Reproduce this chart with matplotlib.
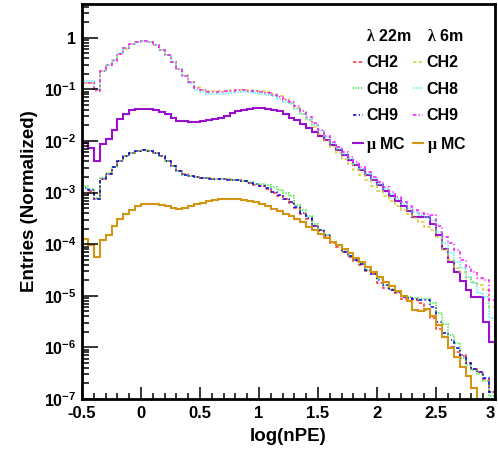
import matplotlib
matplotlib.use("Agg")
import matplotlib.pyplot as plt
from matplotlib.lines import Line2D
from matplotlib.ticker import FixedLocator, LogLocator, NullFormatter, MultipleLocator
import numpy as np

plt.rcParams["font.family"] = ["Liberation Sans", "DejaVu Sans"]
plt.rcParams["font.weight"] = "bold"
plt.rcParams["mathtext.fontset"] = "custom"
plt.rcParams["mathtext.rm"] = "Liberation Serif"
plt.rcParams["mathtext.it"] = "Liberation Serif:italic"
plt.rcParams["mathtext.bf"] = "Liberation Sans:bold"

# Binning: 70 bins of 0.05 in log(nPE)
bin_edges = np.linspace(-0.5, 3.0, 71)

# lambda = 22m
ch2_22m = [9.1e-4, 1.05e-3, 7.4e-4, 1.82e-3, 2.30e-3, 3.10e-3, 4.05e-3, 5.0e-3, 5.9e-3, 6.45e-3,
           6.6e-3, 6.45e-3, 5.9e-3, 5.0e-3, 4.05e-3, 3.2e-3, 2.6e-3, 2.25e-3, 2.08e-3, 2.0e-3,
           1.94e-3, 1.89e-3, 1.86e-3, 1.83e-3, 1.80e-3, 1.77e-3, 1.74e-3, 1.66e-3, 1.55e-3, 1.43e-3,
           1.32e-3, 1.18e-3, 1.0e-3, 8.6e-4, 7.4e-4, 6.4e-4, 5.0e-4, 3.9e-4, 3.1e-4, 2.25e-4,
           1.8e-4, 1.45e-4, 1.07e-4, 8.8e-5, 7.0e-5, 5.6e-5, 4.8e-5, 3.9e-5, 3.0e-5, 2.6e-5,
           1.75e-5, 1.40e-5, 1.28e-5, 1.12e-5, 8.6e-6, 8.6e-6, 8.2e-6, 7.2e-6, 5.2e-6, 3.7e-6,
           2.3e-6, 1.57e-6, 1.0e-6, 8.0e-7, 7.0e-7, 4.9e-7, 3.9e-7, 3.3e-7, 2.4e-7, 1.35e-7]
ch8_22m = [1.32e-3, 1.15e-3, 7.9e-4, 1.9e-3, 2.36e-3, 3.15e-3, 4.1e-3, 5.1e-3, 5.8e-3, 6.35e-3,
           6.6e-3, 6.5e-3, 5.8e-3, 5.1e-3, 4.1e-3, 3.25e-3, 2.6e-3, 2.22e-3, 2.05e-3, 1.97e-3,
           1.92e-3, 1.88e-3, 1.85e-3, 1.82e-3, 1.80e-3, 1.78e-3, 1.76e-3, 1.70e-3, 1.60e-3, 1.49e-3,
           1.45e-3, 1.38e-3, 1.28e-3, 1.11e-3, 9.6e-4, 8.5e-4, 5.7e-4, 4.5e-4, 3.5e-4, 2.5e-4,
           1.9e-4, 1.52e-4, 1.12e-4, 9.6e-5, 7.3e-5, 6.0e-5, 5.0e-5, 4.2e-5, 3.2e-5, 2.8e-5,
           2.1e-5, 1.65e-5, 1.35e-5, 1.2e-5, 9.8e-6, 9.3e-6, 8.9e-6, 8.7e-6, 8.7e-6, 7.2e-6,
           4.6e-6, 2.9e-6, 1.71e-6, 1.20e-6, 6.1e-7, 4.5e-7, 3.6e-7, 3.1e-7, 2.2e-7, 1.13e-7]
ch9_22m = [1.20e-3, 1.11e-3, 7.65e-4, 1.87e-3, 2.34e-3, 3.13e-3, 4.09e-3, 5.05e-3, 5.85e-3, 6.40e-3,
           6.6e-3, 6.5e-3, 5.85e-3, 5.05e-3, 4.09e-3, 3.23e-3, 2.59e-3, 2.23e-3, 2.07e-3, 1.98e-3,
           1.92e-3, 1.87e-3, 1.84e-3, 1.81e-3, 1.79e-3, 1.75e-3, 1.73e-3, 1.66e-3, 1.56e-3, 1.45e-3,
           1.34e-3, 1.20e-3, 1.03e-3, 8.9e-4, 7.65e-4, 6.6e-4, 5.2e-4, 4.0e-4, 3.2e-4, 2.3e-4,
           1.86e-4, 1.49e-4, 1.10e-4, 9.5e-5, 7.1e-5, 5.8e-5, 4.9e-5, 4.1e-5, 3.1e-5, 2.7e-5,
           2.0e-5, 1.6e-5, 1.32e-5, 1.19e-5, 9.5e-6, 9.1e-6, 8.7e-6, 8.4e-6, 8.2e-6, 6.1e-6,
           3.1e-6, 1.88e-6, 1.37e-6, 9.6e-7, 6.7e-7, 4.9e-7, 3.9e-7, 3.3e-7, 2.5e-7, 1.35e-7]
mc_22m = [9.1e-3, 7.3e-3, 4.0e-3, 8.6e-3, 1.11e-2, 1.66e-2, 2.64e-2, 3.40e-2, 3.94e-2, 4.11e-2,
          4.25e-2, 4.17e-2, 3.94e-2, 3.60e-2, 3.29e-2, 2.84e-2, 2.48e-2, 2.44e-2, 2.38e-2, 2.38e-2,
          2.44e-2, 2.52e-2, 2.67e-2, 2.84e-2, 3.11e-2, 3.44e-2, 3.77e-2, 4.06e-2, 4.25e-2, 4.36e-2,
          4.36e-2, 4.25e-2, 3.94e-2, 3.72e-2, 3.29e-2, 2.79e-2, 2.52e-2, 2.11e-2, 1.76e-2, 1.47e-2,
          1.23e-2, 1.03e-2, 8.3e-3, 6.6e-3, 5.3e-3, 4.2e-3, 3.4e-3, 2.7e-3, 2.2e-3, 1.73e-3,
          1.38e-3, 1.06e-3, 8.5e-4, 6.8e-4, 5.4e-4, 4.3e-4, 3.3e-4, 3.3e-4, 3.3e-4, 2.5e-4,
          1.49e-4, 7.9e-5, 4.5e-5, 2.9e-5, 1.91e-5, 1.32e-5, 9.5e-6, 9.5e-6, 3.1e-6, 1.27e-6]

# lambda = 6m
ch2_6m = [0.133, 0.133, 0.096, 0.227, 0.293, 0.366, 0.494, 0.618, 0.748, 0.818,
          0.855, 0.829, 0.716, 0.591, 0.458, 0.340, 0.253, 0.188, 0.139, 0.111,
          0.099, 0.093, 0.0919, 0.0919, 0.0948, 0.096, 0.099, 0.099, 0.0973, 0.0948,
          0.0919, 0.0879, 0.0815, 0.0735, 0.0643, 0.0545, 0.0430, 0.0329, 0.0252, 0.0184,
          0.0135, 9.9e-3, 7.6e-3, 5.8e-3, 4.4e-3, 3.5e-3, 2.7e-3, 2.2e-3, 1.73e-3, 1.32e-3,
          1.06e-3, 8.5e-4, 6.8e-4, 5.4e-4, 4.5e-4, 3.8e-4, 3.2e-4, 2.65e-4, 2.2e-4, 1.86e-4,
          1.36e-4, 7.6e-5, 4.9e-5, 3.4e-5, 2.85e-5, 2.2e-5, 1.83e-5, 1.6e-5, 1.28e-5, 6.0e-6]
ch8_6m = [0.147, 0.147, 0.10, 0.23, 0.295, 0.37, 0.50, 0.62, 0.75, 0.82,
          0.85, 0.83, 0.72, 0.59, 0.455, 0.335, 0.25, 0.185, 0.135, 0.099,
          0.0885, 0.083, 0.082, 0.082, 0.085, 0.086, 0.0885, 0.0885, 0.087, 0.085,
          0.082, 0.079, 0.073, 0.066, 0.0575, 0.0514, 0.0411, 0.0329, 0.0264, 0.0201,
          0.0154, 0.0118, 9.0e-3, 6.9e-3, 5.5e-3, 4.4e-3, 3.5e-3, 2.8e-3, 2.26e-3, 1.81e-3,
          1.45e-3, 1.16e-3, 9.3e-4, 7.4e-4, 5.9e-4, 5.0e-4, 4.15e-4, 3.6e-4, 3.3e-4, 2.9e-4,
          1.70e-4, 1.04e-4, 6.6e-5, 4.5e-5, 3.4e-5, 2.3e-5, 1.75e-5, 1.12e-5, 9.3e-6, 3.7e-6]
ch9_6m = [0.13, 0.13, 0.094, 0.222, 0.29, 0.36, 0.49, 0.62, 0.75, 0.82,
          0.86, 0.83, 0.72, 0.59, 0.46, 0.34, 0.25, 0.185, 0.137, 0.106,
          0.095, 0.089, 0.088, 0.088, 0.091, 0.092, 0.095, 0.095, 0.093, 0.091,
          0.088, 0.084, 0.078, 0.072, 0.063, 0.056, 0.047, 0.0377, 0.0288, 0.0220,
          0.0161, 0.0123, 9.4e-3, 7.6e-3, 6.0e-3, 4.8e-3, 3.9e-3, 3.1e-3, 2.5e-3, 1.98e-3,
          1.58e-3, 1.27e-3, 1.01e-3, 8.1e-4, 6.5e-4, 5.4e-4, 4.5e-4, 4.0e-4, 3.8e-4, 3.6e-4,
          2.3e-4, 1.36e-4, 1.04e-4, 7.6e-5, 4.9e-5, 3.6e-5, 2.85e-5, 2.2e-5, 2.0e-5, 8.2e-6]
mc_6m = [1.28e-4, 9.8e-5, 5.6e-5, 1.23e-4, 1.53e-4, 2.25e-4, 3.04e-4, 3.8e-4, 4.5e-4, 5.5e-4,
         6.1e-4, 6.1e-4, 5.9e-4, 5.7e-4, 5.4e-4, 5.1e-4, 4.9e-4, 5.1e-4, 5.4e-4, 5.9e-4,
         6.4e-4, 6.9e-4, 7.3e-4, 7.5e-4, 7.65e-4, 7.65e-4, 7.5e-4, 7.3e-4, 6.9e-4, 6.5e-4,
         6.1e-4, 5.5e-4, 4.9e-4, 4.3e-4, 3.8e-4, 3.5e-4, 3.1e-4, 2.7e-4, 2.2e-4, 1.86e-4,
         1.60e-4, 1.34e-4, 1.10e-4, 9.5e-5, 7.9e-5, 6.6e-5, 5.4e-5, 4.5e-5, 3.6e-5, 2.9e-5,
         2.3e-5, 1.85e-5, 1.53e-5, 1.24e-5, 9.9e-6, 7.8e-6, 5.2e-6, 5.0e-6, 5.5e-6, 4.0e-6,
         2.7e-6, 1.57e-6, 9.6e-7, 6.4e-7, 4.1e-7, 2.75e-7, 1.6e-7, 0.0, 0.0, 0.0]

x_ticks = [-0.5, 0.0, 0.5, 1.0, 1.5, 2.0, 2.5, 3.0]
x_labels = ["-0.5", "0", "0.5", "1", "1.5", "2", "2.5", "3"]
y_decades = [1e-7, 1e-6, 1e-5, 1e-4, 1e-3, 1e-2, 1e-1, 1.0]
y_labels = [r"$\mathbf{10^{-7}}$", r"$\mathbf{10^{-6}}$", r"$\mathbf{10^{-5}}$", r"$\mathbf{10^{-4}}$",
            r"$\mathbf{10^{-3}}$", r"$\mathbf{10^{-2}}$", r"$\mathbf{10^{-1}}$", "1"]

ymin, ymax = 1e-7, 4.5

dash = (0, (2.2, 1.6))
dot = (0, (0.8, 0.9))
dashdot = (0, (2.2, 1.6, 0.8, 1.6))

fig = plt.figure(figsize=(4.98, 4.5), dpi=100)
ax = fig.add_axes([0.1647, 0.1133, 0.8293, 0.8778])

series = [
    (ch2_22m, "#ff2a2a", dash, 1.1),
    (ch8_22m, "#22e622", dot, 1.1),
    (ch9_22m, "#0000ee", dashdot, 1.1),
    (mc_22m, "#9a10cc", "-", 1.5),
    (ch2_6m, "#d6cc30", dash, 1.1),
    (ch8_6m, "#33eeee", dot, 1.1),
    (ch9_6m, "#ff10ff", dashdot, 1.1),
    (mc_6m, "#d29614", "-", 1.5),
]
handles = []
for vals, color, ls, lw in series:
    ax.stairs(vals, bin_edges, baseline=ymin, color=color, linestyle=ls, linewidth=lw)
    handles.append(Line2D([], [], color=color, linestyle=ls, linewidth=lw))

ax.set_yscale("log")
ax.set_xlim(-0.5, 3.0)
ax.set_ylim(ymin, ymax)

ax.xaxis.set_major_locator(FixedLocator(x_ticks))
ax.set_xticklabels(x_labels)
ax.xaxis.set_minor_locator(MultipleLocator(0.1))
ax.yaxis.set_major_locator(FixedLocator(y_decades))
ax.set_yticklabels(y_labels)
ax.yaxis.set_minor_locator(LogLocator(base=10, subs=np.arange(2, 10)))
ax.yaxis.set_minor_formatter(NullFormatter())

ax.tick_params(axis="both", which="both", direction="in", top=False, right=False, width=1.1)
ax.tick_params(axis="x", which="major", length=8.6, pad=5, labelsize=12)
ax.tick_params(axis="x", which="minor", length=4.3)
ax.tick_params(axis="y", which="major", length=11.5, pad=4, labelsize=11.5)
ax.tick_params(axis="y", which="minor", length=5)
for s in ax.spines.values():
    s.set_linewidth(2.0)
# the last x label sits on the figure edge, as in the original; pull it in a touch
ax.get_xticklabels()[-1].set_horizontalalignment("right")

ax.set_xlabel("log(nPE)", fontsize=13.5, fontweight="bold", labelpad=5)
ax.set_ylabel("Entries (Normalized)", fontsize=13.5, fontweight="bold", labelpad=4)

blank = Line2D([], [], linestyle="none")
leg_handles = [blank] + handles[:4] + [blank] + handles[4:]
leg_labels = [r"$\mathrm{\lambda}$ 22m", "CH2", "CH8", "CH9", r"$\mathrm{\mu}$ MC",
              r"$\mathrm{\lambda}$ 6m", "CH2", "CH8", "CH9", r"$\mathrm{\mu}$ MC"]
ax.legend(leg_handles, leg_labels, ncol=2, loc="upper left", bbox_to_anchor=(0.655, 0.94),
          frameon=False, handlelength=0.65, handletextpad=0.2,
          columnspacing=0.1, labelspacing=0.72, borderpad=0, borderaxespad=0,
          prop={"weight": "bold", "size": 11.5})

fig.savefig("out.png", dpi=100)
